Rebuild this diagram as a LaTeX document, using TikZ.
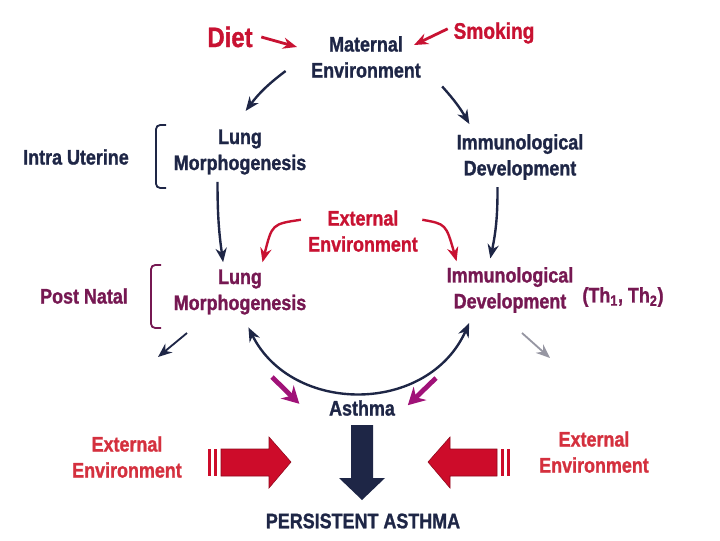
\documentclass[tikz,border=0pt]{standalone}
\usepackage{fontspec}
\setmainfont{Liberation Sans}[FakeStretch=0.85, BoldFeatures={FakeBold=1.2}]
\usetikzlibrary{arrows.meta,positioning,calc}
\definecolor{inkNavy}{RGB}{30, 38, 70}
\definecolor{inkRed}{RGB}{200, 18, 50}
\definecolor{inkSoftRed}{RGB}{212, 48, 62}
\definecolor{inkPlum}{RGB}{118, 24, 82}
\definecolor{inkMagenta}{RGB}{160, 18, 120}
\definecolor{inkGrey}{RGB}{150, 150, 162}
\definecolor{blockRed}{RGB}{205, 12, 42}
\tikzset{
  lbl/.style={font=\fontsize{15pt}{18.5pt}\selectfont\bfseries, align=center, inner sep=1pt},
  navylbl/.style={lbl, text=inkNavy},
  redlbl/.style={lbl, text=inkRed},
  plumlbl/.style={lbl, text=inkPlum},
  flow/.style={-{Stealth[length=10pt,width=8pt]}, line width=1.7pt},
  blockarrow/.style={fill=blockRed, draw=blockRed!70!black, line width=0.4pt},
}

\begin{document}
\begin{tikzpicture}[x=0.025cm,y=-0.025cm]
\useasboundingbox (0,0) rectangle (720,540);

% labels
\node[redlbl, font=\fontsize{20pt}{22pt}\selectfont\bfseries] (diet) at (230,37) {Diet};
\node[redlbl, font=\fontsize{16pt}{18pt}\selectfont\bfseries] (smoking) at (494,33) {Smoking};
\node[navylbl] (matenv) at (366,57) {Maternal\\Environment};
\node[navylbl] (intra) at (76,157) {Intra Uterine};
\node[navylbl] (lungIU) at (240,152) {Lung\\Morphogenesis};
\node[navylbl] (immIU) at (520,157) {Immunological\\Development};
\node[redlbl] (extmid) at (363,231) {External\\Environment};
\node[plumlbl] (postnatal) at (84,296) {Post Natal};
\node[plumlbl] (lungPN) at (240,292) {Lung\\Morphogenesis};
\node[plumlbl] (immPN) at (510,290) {Immunological\\Development};
\node[plumlbl] (th) at (623,297) {(Th\textsubscript{1}, Th\textsubscript{2})};
\node[navylbl] (asthma) at (362,408) {Asthma};
\node[lbl, text=inkSoftRed] (extL) at (127,457) {External\\Environment};
\node[lbl, text=inkSoftRed] (extR) at (594,452) {External\\Environment};
\node[navylbl] (persist) at (363,521) {PERSISTENT ASTHMA};

% helper points
\coordinate (dietTip) at (297,47);
\coordinate (smokTip) at (414,45);
\coordinate (ghostL) at (158,357);
\coordinate (ghostLs) at (187,333);
\coordinate (ghostR) at (550,358);
\coordinate (ghostRs) at (522,333);
\coordinate (magL) at (272,377);
\coordinate (magR) at (436,378);

% brackets
\draw[inkNavy, line width=1.3pt, rounded corners=3pt] (166,125) -- (156,125) -- (156,188) -- (166,188);
\draw[inkPlum, line width=1.3pt, rounded corners=3pt] (161,265) -- (151,265) -- (151,328) -- (161,328);

% risk factors
\draw[flow, inkRed, line width=2pt] ([xshift=5pt]diet.east) -- (dietTip);
\draw[flow, inkRed, line width=2pt] ([xshift=-3pt,yshift=3pt]smoking.west) -- (smokTip);

% intra uterine stage
\draw[flow, inkNavy] ([xshift=-17pt,yshift=6pt]matenv.south west) to[bend right=8] ([xshift=4pt,yshift=12pt]lungIU.north);
\draw[flow, inkNavy] ([xshift=14pt,yshift=-5pt]matenv.south east) to[bend left=6] ([xshift=-36pt,yshift=6pt]immIU.north);
\draw[flow, inkNavy] ([xshift=-16pt,yshift=-4pt]lungIU.south) to[bend right=4] ([xshift=-12pt,yshift=4pt]lungPN.north);
\draw[flow, inkNavy] ([xshift=-16pt,yshift=-4pt]immIU.south) to[bend left=6] ([xshift=-14pt,yshift=5pt]immPN.north);

% external environment, post natal
\draw[flow, inkRed] ([xshift=-4pt,yshift=8pt]extmid.west) .. controls (272,224) .. ([xshift=16pt,yshift=4pt]lungPN.north);
\draw[flow, inkRed] ([xshift=2pt,yshift=8pt]extmid.east) .. controls (446,224) .. ([xshift=-38pt,yshift=3pt]immPN.north);

% interaction loop
\draw[{Stealth[length=10pt,width=8pt]}-{Stealth[length=10pt,width=8pt]}, line width=1.7pt, inkNavy]
  ([xshift=6pt,yshift=-8pt]lungPN.south) .. controls (292,415) and (428,415) .. ([xshift=-29pt,yshift=-6pt]immPN.south);

% side outcomes
\draw[flow, inkNavy, line width=1.3pt] (ghostLs) -- (ghostL);
\draw[flow, inkGrey, line width=1.3pt] (ghostRs) -- (ghostR);
\draw[-{Stealth[length=12pt,width=13pt]}, line width=3.4pt, inkMagenta] (magL) -- ([xshift=-20pt,yshift=3pt]asthma.west);
\draw[-{Stealth[length=12pt,width=13pt]}, line width=3.4pt, inkMagenta] (magR) -- ([xshift=8pt,yshift=2pt]asthma.east);

% block arrows
\fill[inkNavy] (351,425) -- (373,425) -- (373,478) -- (385,478) -- (362,500) -- (339,478) -- (351,478) -- cycle;
\fill[blockRed] (208,449) rectangle (211,476);
\fill[blockRed] (214,449) rectangle (217,476);
\draw[blockarrow] (221,449) -- (269,449) -- (269,437) -- (291,462) -- (269,488) -- (269,476) -- (221,476) -- cycle;
\fill[blockRed] (507,449) rectangle (510,476);
\fill[blockRed] (501,449) rectangle (504,476);
\draw[blockarrow] (497,449) -- (450,449) -- (450,437) -- (428,462) -- (450,488) -- (450,476) -- (497,476) -- cycle;
\end{tikzpicture}
\end{document}
